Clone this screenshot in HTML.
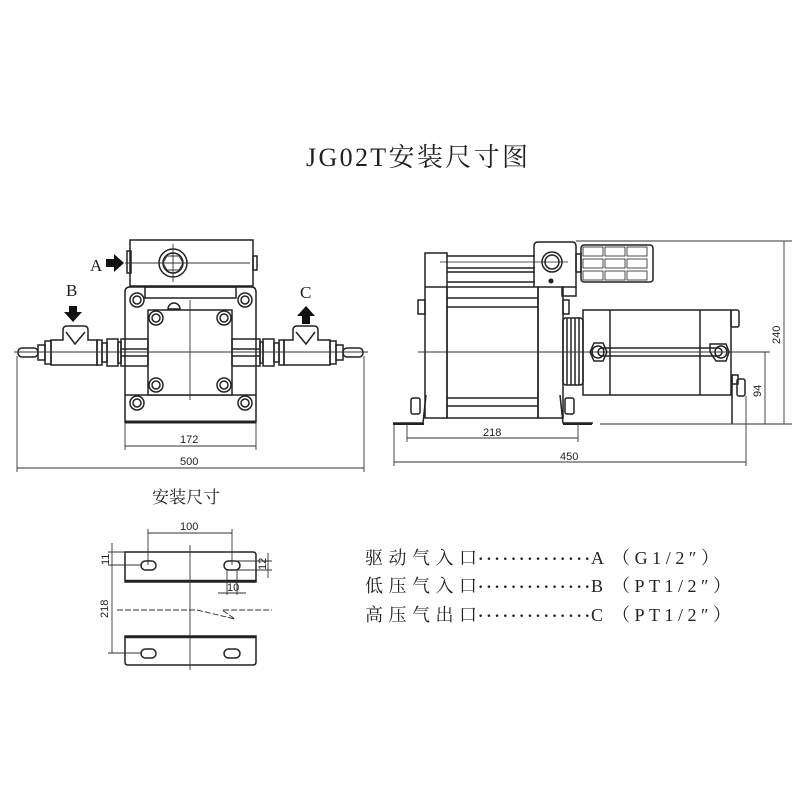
<!DOCTYPE html>
<html><head><meta charset="utf-8"><style>
html,body{margin:0;padding:0;background:#fff;width:800px;height:800px;overflow:hidden}
svg{display:block}
.l{stroke:#222;stroke-width:1.5;fill:none}
.t{stroke:#333;stroke-width:0.9;fill:none}
.w{stroke:#222;stroke-width:1.5;fill:#fff}
.d{stroke:#222;stroke-width:3;fill:none}
.dim{font-family:"Liberation Sans",sans-serif;font-size:11px;fill:#222}
.cjk{font-family:"Liberation Serif","Noto Serif CJK SC",serif;fill:#222}
</style></head><body>
<svg width="800" height="800" viewBox="0 0 800 800" xmlns="http://www.w3.org/2000/svg">
<text x="306" y="166" class="cjk" font-size="26" textLength="222">JG02T安装尺寸图</text>

<!-- LEFT VIEW -->
<rect x="130" y="240" width="123" height="46" class="l"/>
<rect x="127" y="251" width="4" height="22" class="l"/>
<rect x="253" y="256" width="4" height="14" class="l"/>
<circle cx="173" cy="263" r="14" class="l"/><circle cx="173" cy="263" r="10" class="l"/>
<polygon points="167,256 179,256 183,263 179,270 167,270 163,263" class="t"/>
<line x1="125" y1="263" x2="250" y2="263" class="t"/>
<line x1="173" y1="244" x2="173" y2="282" class="t"/>
<text x="90" y="271" class="cjk" font-size="17">A</text>
<polygon points="106,259 114,259 114,254 124,263 114,272 114,267 106,267" fill="#111"/>
<path d="M125,422 V292 Q125,287 130,287 H251 Q256,287 256,292 V422 Z" class="l"/>
<line x1="125" y1="422" x2="256" y2="422" class="d"/>
<rect x="145" y="287" width="91" height="11" class="l"/>
<line x1="125" y1="395" x2="256" y2="395" class="l"/>
<rect x="148" y="310" width="84" height="85" class="w"/>
<path d="M168,309 A6,6 0 0 1 180,309 Z" class="l"/>
<line x1="190" y1="300" x2="190" y2="400" class="t"/>
<g class="l">
<circle cx="137" cy="300" r="7"/><circle cx="137" cy="300" r="4"/>
<circle cx="245" cy="300" r="7"/><circle cx="245" cy="300" r="4"/>
<circle cx="137" cy="403" r="7"/><circle cx="137" cy="403" r="4"/>
<circle cx="245" cy="403" r="7"/><circle cx="245" cy="403" r="4"/>
<circle cx="156" cy="318" r="7"/><circle cx="156" cy="318" r="4"/>
<circle cx="224" cy="318" r="7"/><circle cx="224" cy="318" r="4"/>
<circle cx="156" cy="385" r="7"/><circle cx="156" cy="385" r="4"/>
<circle cx="224" cy="385" r="7"/><circle cx="224" cy="385" r="4"/>
</g>
<!-- left pipe -->
<g class="l">
<rect x="18" y="348" width="20" height="9" rx="4"/>
<rect x="38" y="345" width="7" height="15"/>
<rect x="45" y="341" width="6" height="23"/>
<path d="M51,340 H63 V330 Q63,326 67,326 H84 Q88,326 88,330 V340 H97 V365 H51 Z"/>
<path d="M66,332 L75,344 L85,332"/>
<rect x="97" y="340" width="5" height="25"/>
<rect x="102" y="343" width="5" height="19"/>
<rect x="107" y="339" width="11" height="27"/>
<rect x="118" y="342" width="3" height="21"/>
<rect x="121" y="339" width="27" height="27"/>
<line x1="121" y1="349" x2="148" y2="349"/><line x1="121" y1="356" x2="148" y2="356"/>
</g>
<!-- right pipe -->
<g class="l">
<rect x="343" y="348" width="20" height="9" rx="4"/>
<rect x="336" y="345" width="7" height="15"/>
<rect x="330" y="341" width="6" height="23"/>
<path d="M330,340 H318 V330 Q318,326 314,326 H297 Q293,326 293,330 V340 H284 V365 H330 Z"/>
<path d="M296,332 L306,344 L315,332"/>
<rect x="279" y="340" width="5" height="25"/>
<rect x="274" y="343" width="5" height="19"/>
<rect x="263" y="339" width="11" height="27"/>
<rect x="260" y="342" width="3" height="21"/>
<rect x="232" y="339" width="28" height="27"/>
<line x1="232" y1="349" x2="260" y2="349"/><line x1="232" y1="356" x2="260" y2="356"/>
</g>
<line x1="14" y1="352" x2="368" y2="352" class="t"/>
<text x="66" y="296" class="cjk" font-size="17">B</text>
<polygon points="69,306 77,306 77,312 82,312 73,322 64,312 69,312" fill="#111"/>
<text x="300" y="298" class="cjk" font-size="17">C</text>
<polygon points="302,324 310,324 310,316 315,316 306,306 297,316 302,316" fill="#111"/>
<!-- dims -->
<g class="t">
<line x1="125" y1="422" x2="125" y2="450"/><line x1="256" y1="422" x2="256" y2="450"/>
<line x1="125" y1="446" x2="256" y2="446"/>
<line x1="17" y1="356" x2="17" y2="472"/><line x1="364" y1="356" x2="364" y2="472"/>
<line x1="17" y1="468" x2="364" y2="468"/>
</g>
<text x="180" y="443" class="dim">172</text>
<text x="180" y="465" class="dim">500</text>

<!-- RIGHT VIEW -->
<g class="l">
<rect x="425" y="253" width="22" height="165"/>
<line x1="425" y1="287" x2="447" y2="287"/>
<rect x="418" y="300" width="7" height="14"/>
<line x1="447" y1="256" x2="535" y2="256"/><line x1="447" y1="268" x2="535" y2="268"/>
<line x1="447" y1="272" x2="535" y2="272"/><line x1="447" y1="282" x2="535" y2="282"/>
<rect x="447" y="287" width="91" height="131"/>
<line x1="447" y1="298" x2="538" y2="298"/><line x1="447" y1="307" x2="538" y2="307"/>
<line x1="447" y1="398" x2="538" y2="398"/><line x1="447" y1="406" x2="538" y2="406"/>
<rect x="538" y="287" width="25" height="131"/>
<rect x="563" y="300" width="6" height="14"/>
<path d="M534,287 V246 Q534,242 538,242 H572 Q576,242 576,246 V287 H562"/>
<path d="M562,287 V296 H576 V287"/>
<circle cx="552" cy="262" r="10"/><circle cx="552" cy="262" r="7"/>
<line x1="440" y1="262" x2="568" y2="262" stroke-width="0.7"/>
<circle cx="551" cy="281" r="1.8" fill="#222"/>
<rect x="581" y="245" width="72" height="37" rx="3"/>
<rect x="576" y="254" width="5" height="18"/>
<g stroke-width="0.8">
<rect x="583" y="247" width="20" height="9"/><rect x="605" y="247" width="20" height="9"/><rect x="627" y="247" width="20" height="9"/>
<rect x="583" y="259" width="20" height="9"/><rect x="605" y="259" width="20" height="9"/><rect x="627" y="259" width="20" height="9"/>
<rect x="583" y="271" width="20" height="9"/><rect x="605" y="271" width="20" height="9"/><rect x="627" y="271" width="20" height="9"/>
</g>
<rect x="563" y="318" width="20" height="67" rx="3"/>
<line x1="567" y1="318" x2="567" y2="385"/><line x1="571" y1="318" x2="571" y2="385"/>
<line x1="575" y1="318" x2="575" y2="385"/><line x1="579" y1="318" x2="579" y2="385"/>
<rect x="583" y="310" width="148" height="85"/>
<line x1="610" y1="310" x2="610" y2="395"/><line x1="700" y1="310" x2="700" y2="395"/>
<rect x="598" y="348" width="124" height="8" rx="4"/>
<polygon points="590,352 594,343 603,343 607,352 603,361 594,361"/>
<circle cx="598" cy="352" r="6"/>
<polygon points="710,344 726,344 729,352 726,361 716,361 710,352"/>
<circle cx="721" cy="352" r="6"/>
<rect x="731" y="310" width="8" height="17" rx="2"/>
<rect x="732" y="375" width="6" height="9"/>
<rect x="737" y="379" width="8" height="17" rx="2"/>
<path d="M732,375 V424"/>
<path d="M393,423 H423 L426,395"/>
<path d="M593,423 H563 L560,395"/>
<line x1="393" y1="424" x2="424" y2="424" stroke-width="2"/>
<line x1="563" y1="424" x2="592" y2="424" stroke-width="2"/>
<rect x="411" y="398" width="9" height="16" rx="2"/>
<rect x="565" y="398" width="9" height="16" rx="2"/>
</g>
<line x1="418" y1="352" x2="748" y2="352" class="t"/>
<!-- right dims -->
<g class="t">
<line x1="576" y1="241" x2="792" y2="241"/>
<line x1="600" y1="424" x2="792" y2="424"/>
<line x1="784" y1="241" x2="784" y2="424"/>
<line x1="740" y1="352" x2="770" y2="352"/>
<line x1="765" y1="352" x2="765" y2="424"/>
<line x1="407" y1="424" x2="407" y2="442"/><line x1="578" y1="424" x2="578" y2="442"/>
<line x1="407" y1="438" x2="578" y2="438"/>
<line x1="394" y1="424" x2="394" y2="466"/><line x1="746" y1="396" x2="746" y2="466"/>
<line x1="394" y1="462" x2="746" y2="462"/>
</g>
<text x="483" y="436" class="dim">218</text>
<text x="560" y="460" class="dim">450</text>
<text class="dim" transform="translate(780,344) rotate(-90)">240</text>
<text class="dim" transform="translate(761,397) rotate(-90)">94</text>

<!-- 安装尺寸 -->
<text x="152" y="503" class="cjk" font-size="17">安装尺寸</text>
<g class="l">
<path d="M125,582 V552 H253 Q256,552 256,555 V582 Z"/>
<line x1="125" y1="581" x2="256" y2="581" stroke-width="2.5"/>
<rect x="141" y="561" width="15" height="9" rx="4.5"/>
<rect x="224" y="561" width="16" height="9" rx="4.5"/>
<path d="M125,636 H256 V662 Q256,665 253,665 H128 Q125,665 125,662 Z"/>
<line x1="125" y1="637" x2="256" y2="637" stroke-width="2.5"/>
<rect x="141" y="649" width="15" height="9" rx="4.5"/>
<rect x="224" y="649" width="16" height="9" rx="4.5"/>
</g>
<g class="t">
<line x1="190" y1="545" x2="190" y2="670"/>
<line x1="148" y1="529" x2="148" y2="565"/><line x1="232" y1="529" x2="232" y2="565"/>
<line x1="148" y1="533" x2="232" y2="533"/>
<line x1="117" y1="610" x2="197" y2="610" stroke-dasharray="6,2"/>
<path d="M197,610 L235,619 L222,610 H272" stroke-dasharray="6,2"/>
<line x1="108" y1="552" x2="125" y2="552"/>
<line x1="108" y1="565" x2="141" y2="565"/>
<line x1="112" y1="543" x2="112" y2="653"/>
<line x1="108" y1="653" x2="141" y2="653"/>
<line x1="232" y1="561" x2="272" y2="561"/><line x1="232" y1="570" x2="272" y2="570"/>
<line x1="268" y1="553" x2="268" y2="578"/>
<line x1="227" y1="570" x2="227" y2="595"/><line x1="237" y1="570" x2="237" y2="595"/>
<line x1="218" y1="593" x2="246" y2="593"/>
</g>
<text x="180" y="530" class="dim">100</text>
<text class="dim" font-size="10" transform="translate(109,565) rotate(-90)">11</text>
<text class="dim" transform="translate(108,618) rotate(-90)">218</text>
<text class="dim" font-size="10" transform="translate(266,570) rotate(-90)">12</text>
<text x="227" y="591" class="dim" font-size="10">10</text>

<!-- legend -->
<g class="cjk" font-size="18">
<text x="365" y="564" textLength="112">驱动气入口</text>
<text x="365" y="592" textLength="112">低压气入口</text>
<text x="365" y="621" textLength="112">高压气出口</text>
<text x="478" y="564" textLength="112" font-size="16" font-weight="bold">··············</text>
<text x="478" y="592" textLength="112" font-size="16" font-weight="bold">··············</text>
<text x="478" y="621" textLength="112" font-size="16" font-weight="bold">··············</text>
<text x="591" y="564">A</text>
<text x="591" y="592">B</text>
<text x="591" y="621">C</text>
<text x="612" y="564" textLength="106" letter-spacing="-1">（G1/2″）</text>
<text x="612" y="592" textLength="118" letter-spacing="-1">（PT1/2″）</text>
<text x="612" y="621" textLength="118" letter-spacing="-1">（PT1/2″）</text>
</g>
</svg>
</body></html>
